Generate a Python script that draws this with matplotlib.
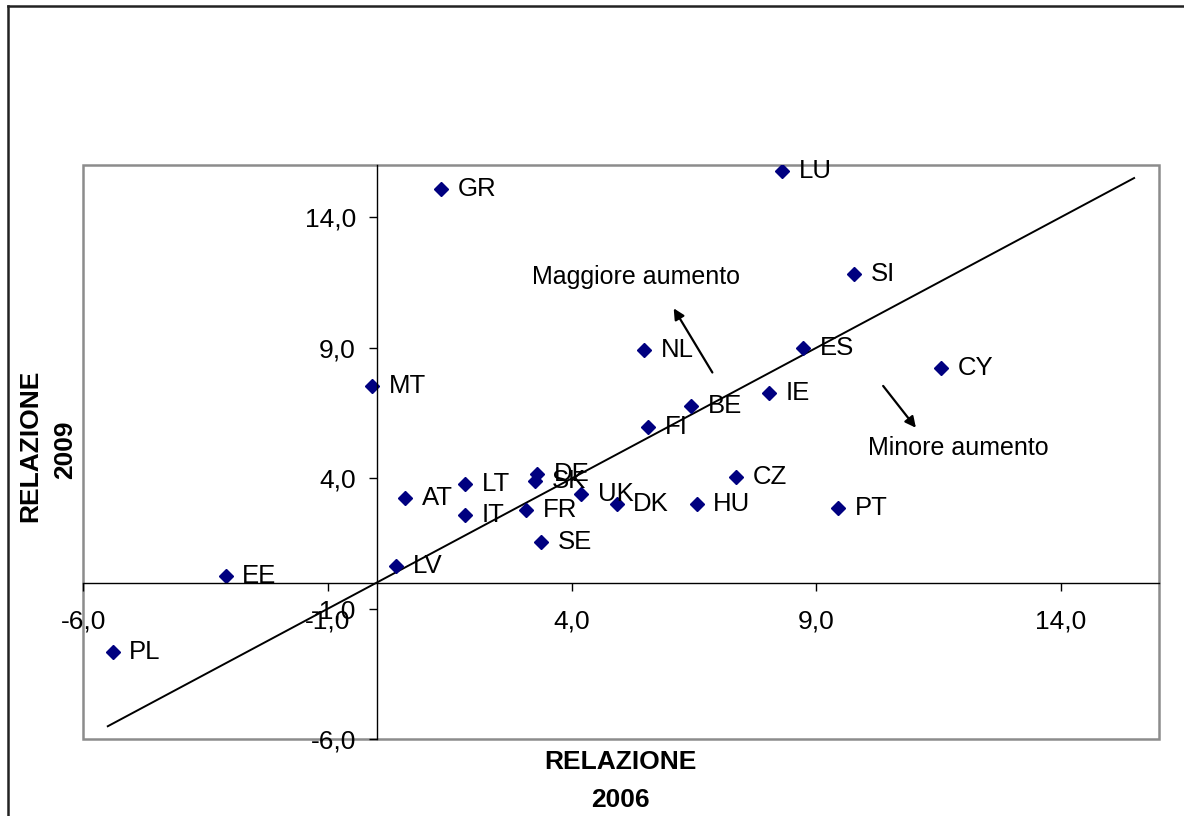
import matplotlib
matplotlib.use('Agg')
import matplotlib.pyplot as plt
from matplotlib.lines import Line2D
from matplotlib.patches import Rectangle
from matplotlib.ticker import FixedLocator, FuncFormatter

plt.rcParams['font.family'] = ['Liberation Sans', 'DejaVu Sans']

# relazione 2006 (x) vs relazione 2009 (y)
paesi = ['PL', 'EE', 'LV', 'AT', 'LT', 'IT', 'FR', 'SE', 'DE', 'SK', 'UK', 'DK',
         'HU', 'CZ', 'PT', 'MT', 'GR', 'LU', 'SI', 'NL', 'ES', 'CY', 'IE', 'BE', 'FI']
rel_2006 = [-5.40, -3.09, 0.40, 0.59, 1.81, 1.81, 3.06, 3.36, 3.29, 3.24, 4.19, 4.91,
            6.55, 7.35, 9.45, -0.09, 1.31, 8.29, 9.77, 5.48, 8.73, 11.55, 8.02, 6.43, 5.56]
rel_2009 = [-2.65, 0.24, 0.63, 3.23, 3.77, 2.58, 2.78, 1.54, 4.18, 3.90, 3.41, 3.02,
            3.02, 4.06, 2.87, 7.55, 15.09, 15.78, 11.82, 8.92, 9.00, 8.23, 7.28, 6.75, 5.95]

bisettrice = [-5.5, 15.5]
tick_vals = [-6, -1, 4, 9, 14]

fig = plt.figure(figsize=(11.84, 8.16), dpi=100)
ax = fig.add_axes([0.0704, 0.094, 0.9081, 0.7038])

ax.plot(bisettrice, bisettrice, color='black', lw=1.4)
ax.plot(rel_2006, rel_2009, linestyle='none', marker='D', markersize=7,
        color='#000080')
for nome, x, y in zip(paesi, rel_2006, rel_2009):
    ax.annotate(nome, (x, y), xytext=(12, 0), textcoords='offset points',
                va='center', ha='left', fontsize=18.5)

# frecce
ax.annotate('', xy=(6.05, 10.6), xytext=(6.90, 7.96),
            arrowprops=dict(arrowstyle='-|>', color='black', lw=1.6, mutation_scale=16))
ax.annotate('', xy=(11.07, 5.85), xytext=(10.33, 7.62),
            arrowprops=dict(arrowstyle='-|>', color='black', lw=1.6, mutation_scale=16))
ax.text(5.31, 11.7, 'Maggiore aumento', ha='center', va='center', fontsize=18)
ax.text(11.9, 5.17, 'Minore aumento', ha='center', va='center', fontsize=18)

ax.set_xlim(-6, 16)
ax.set_ylim(-6, 16)

ax.spines['left'].set_position(('data', 0))
ax.spines['bottom'].set_position(('data', 0))
ax.spines['top'].set_visible(False)
ax.spines['right'].set_visible(False)
for s in ['left', 'bottom']:
    ax.spines[s].set_linewidth(1)
    ax.spines[s].set_color('black')

ax.add_patch(Rectangle((0, 0), 1, 1, transform=ax.transAxes, fill=False,
                       edgecolor='#8c8c8c', lw=1.8, clip_on=False, zorder=0))

fmt = FuncFormatter(lambda v, p: f'{v:.1f}'.replace('.', ','))
ax.xaxis.set_major_locator(FixedLocator(tick_vals))
ax.yaxis.set_major_locator(FixedLocator(tick_vals))
ax.xaxis.set_major_formatter(fmt)
ax.yaxis.set_major_formatter(fmt)
ax.tick_params(axis='x', direction='out', length=6, width=1, pad=13, labelsize=19)
ax.tick_params(axis='y', direction='out', length=6, width=1, pad=9, labelsize=19)

# titoli degli assi
fig.text(620 / 1184, 1 - 762 / 816, 'RELAZIONE', ha='center', va='center',
         fontsize=19, fontweight='bold')
fig.text(620 / 1184, 1 - 800 / 816, '2006', ha='center', va='center',
         fontsize=19, fontweight='bold')
fig.text(30 / 1184, 1 - 446 / 816, 'RELAZIONE', ha='center', va='center',
         fontsize=19, fontweight='bold', rotation=90)
fig.text(65 / 1184, 1 - 450 / 816, '2009', ha='center', va='center',
         fontsize=19, fontweight='bold', rotation=90)

# cornice esterna
fig.add_artist(Line2D([7.5 / 1184, 1], [1 - 6 / 816, 1 - 6 / 816],
                      transform=fig.transFigure, color='#222222', lw=1.8))
fig.add_artist(Line2D([7.5 / 1184, 7.5 / 1184], [0, 1 - 6 / 816],
                      transform=fig.transFigure, color='#222222', lw=1.8))

fig.savefig('out.png', dpi=100)
